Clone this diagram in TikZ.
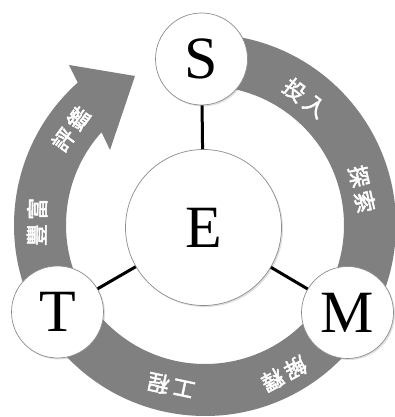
\documentclass[tikz,border=0pt]{standalone}
\usepackage{fontspec}
\setmainfont{Liberation Serif}
\newfontfamily\cjk{Noto Sans CJK TC}[FakeBold=2.2]
\usetikzlibrary{shadows}
\definecolor{ringgray}{RGB}{128,128,128}
\definecolor{rimgray}{RGB}{140,140,140}
\newcommand{\gapc}{\hspace{4pt}}
\begin{document}
\begin{tikzpicture}[x=1pt,y=1pt,
  letter/.style={circle, draw=rimgray, line width=0.7pt, fill=white, minimum size=92pt, inner sep=0pt,
    font=\fontsize{60}{60}\selectfont,
    drop shadow={opacity=0.25, shadow xshift=1.5pt, shadow yshift=-1.5pt}},
  spoke/.style={line width=3pt, black},
  stage/.style={text=white, font=\cjk\fontsize{22}{22}\selectfont, inner sep=0pt}]
\useasboundingbox (0,0) rectangle (395,417);
\coordinate (C) at (205,192);
% ring arrow
\fill[ringgray] ([shift={(85:191pt)}]C) arc[start angle=85, end angle=-228.2, radius=191pt]
  -- (69,352) -- (135,341) -- (110,267)
  -- ([shift={(-221.9:139pt)}]C) arc[start angle=-221.9, end angle=85, radius=139pt] -- cycle;
% stage labels
\node[stage, rotate=-38] (l1) at (305,319) {投\gapc 入};
\node[stage, rotate=-77] (l2) at (362,228) {探\gapc 索};
\node[stage, rotate=-152] (l3) at (284,43) {解\gapc 釋};
\node[stage, rotate=168] (l4) at (171,31) {工\gapc 程};
\node[stage, rotate=89] (l5) at (37,195) {豐\gapc 富};
\node[stage, rotate=54] (l6) at (71,288) {評\gapc 鑑};
% circles
\node[letter, minimum size=156pt] (E) at (203.5,189.5) {E};
\node[letter] (S) at (201.5,358) {S};
\node[letter] (T) at (57.5,105) {T};
\node[letter] (M) at (347.5,104.5) {M};
% spokes
\draw[spoke] (E) -- (S);
\draw[spoke] (E) -- (T);
\draw[spoke] (E) -- (M);
\end{tikzpicture}
\end{document}
